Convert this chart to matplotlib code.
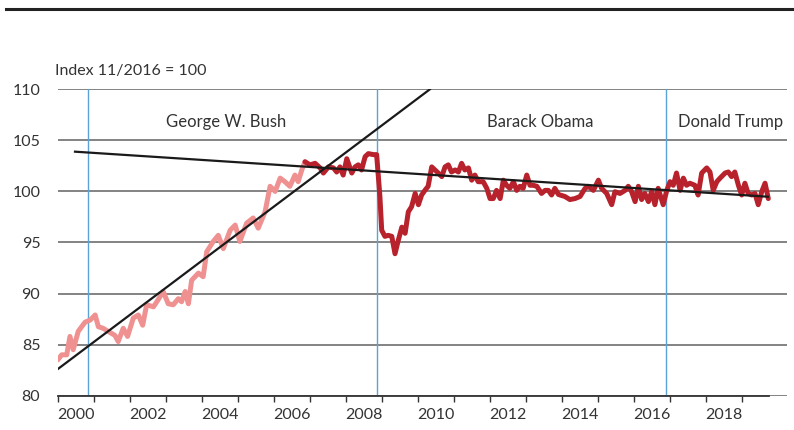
import matplotlib
matplotlib.use('Agg')
import matplotlib.pyplot as plt
from matplotlib.lines import Line2D
import numpy as np

plt.rcParams['font.family'] = ['Lato', 'DejaVu Sans']

# index values (decimal year, index 11/2016 = 100)
years_early = [2000.0, 2000.11, 2000.25, 2000.34, 2000.43, 2000.57, 2000.76, 2000.9,
               2001.04, 2001.13, 2001.26, 2001.4, 2001.59, 2001.68, 2001.82, 2001.94,
               2002.1, 2002.24, 2002.36, 2002.47, 2002.66, 2002.79, 2002.93, 2003.07,
               2003.21, 2003.35, 2003.44, 2003.54, 2003.63, 2003.72, 2003.91, 2004.04,
               2004.14, 2004.32, 2004.46, 2004.6, 2004.79, 2004.93, 2005.06, 2005.25,
               2005.43, 2005.57, 2005.76, 2005.9, 2006.04, 2006.18, 2006.31, 2006.45,
               2006.59, 2006.68, 2006.78, 2006.87]
index_early = [83.5, 84.0, 84.0, 85.8, 84.5, 86.3, 87.2, 87.4,
               87.9, 86.75, 86.6, 86.3, 85.9, 85.3, 86.6, 85.8,
               87.6, 87.9, 86.9, 88.9, 88.7, 89.4, 90.2, 89.0,
               88.9, 89.5, 89.2, 90.2, 89.0, 91.3, 92.0, 91.65,
               94.1, 95.1, 95.7, 94.4, 96.2, 96.7, 95.1, 96.9,
               97.4, 96.4, 98.0, 100.5, 100.0, 101.3, 100.95, 100.5,
               101.6, 100.95, 102.1, 102.9]

years_late = [2006.87, 2007.01, 2007.15, 2007.29, 2007.38, 2007.52, 2007.66, 2007.75,
              2007.84, 2007.93, 2008.03, 2008.17, 2008.26, 2008.35, 2008.44, 2008.54,
              2008.63, 2008.77, 2008.86, 2008.95, 2009.0, 2009.09, 2009.18, 2009.28,
              2009.37, 2009.46, 2009.56, 2009.65, 2009.74, 2009.83, 2009.93, 2010.02,
              2010.11, 2010.2, 2010.29, 2010.39, 2010.48, 2010.57, 2010.67, 2010.76,
              2010.85, 2010.94, 2011.04, 2011.13, 2011.22, 2011.31, 2011.41, 2011.5,
              2011.59, 2011.68, 2011.82, 2011.92, 2012.01, 2012.1, 2012.19, 2012.29,
              2012.38, 2012.47, 2012.56, 2012.66, 2012.75, 2012.84, 2012.93, 2013.03,
              2013.12, 2013.21, 2013.31, 2013.44, 2013.54, 2013.63, 2013.72, 2013.81,
              2013.91, 2014.09, 2014.23, 2014.37, 2014.51, 2014.65, 2014.74, 2014.88,
              2015.02, 2015.11, 2015.25, 2015.39, 2015.48, 2015.62, 2015.76, 2015.85,
              2015.94, 2016.04, 2016.13, 2016.22, 2016.31, 2016.41, 2016.5, 2016.59,
              2016.68, 2016.82, 2016.92, 2017.01, 2017.1, 2017.19, 2017.29, 2017.38,
              2017.47, 2017.56, 2017.7, 2017.79, 2017.89, 2018.03, 2018.12, 2018.21,
              2018.31, 2018.4, 2018.54, 2018.63, 2018.72, 2018.81, 2018.91, 2019.0,
              2019.09, 2019.18, 2019.28, 2019.37, 2019.46, 2019.56, 2019.65, 2019.74]
index_late = [102.9, 102.6, 102.75, 102.3, 101.8, 102.4, 102.3, 101.9,
              102.4, 101.6, 103.2, 101.8, 102.4, 102.6, 102.1, 103.4,
              103.7, 103.6, 103.6, 99.5, 96.2, 95.6, 95.7, 95.6,
              93.9, 95.2, 96.5, 95.9, 98.0, 98.5, 99.8, 98.7,
              99.65, 100.1, 100.5, 102.4, 102.1, 101.8, 101.45, 102.4,
              102.6, 101.9, 102.1, 101.9, 102.75, 102.1, 102.3, 101.1,
              101.6, 100.95, 100.95, 100.3, 99.3, 99.3, 100.1, 99.3,
              101.1, 100.6, 100.3, 100.95, 100.1, 100.5, 100.3, 101.6,
              100.6, 100.6, 100.5, 99.8, 100.1, 100.1, 99.65, 100.3,
              99.7, 99.5, 99.2, 99.3, 99.5, 100.3, 100.5, 100.1,
              101.1, 100.3, 99.8, 98.7, 99.97, 99.8, 100.1, 100.5,
              100.0, 99.0, 100.5, 99.2, 99.8, 99.0, 100.0, 98.7,
              100.3, 98.7, 100.1, 100.95, 100.6, 101.8, 100.1, 101.3,
              100.6, 100.8, 100.6, 99.65, 101.8, 102.3, 101.9, 100.1,
              100.95, 101.3, 101.8, 101.9, 101.45, 101.9, 100.6, 99.65,
              100.8, 99.8, 99.65, 99.8, 98.7, 100.0, 100.8, 99.3]

# trend lines (end points)
trend1_x = [2000.0, 2010.34]
trend1_y = [82.6, 110.0]
trend2_x = [2000.48, 2019.73]
trend2_y = [103.89, 99.48]

elections = [2000.84, 2008.87, 2016.89]
presidents = ['George W. Bush', 'Barack Obama', 'Donald Trump']
label_x = [2004.67, 2013.4, 2018.7]

fig = plt.figure(figsize=(7.94, 4.3), dpi=100)
ax = fig.add_axes([0.0727, 0.0798, 0.9185, 0.7126])

for y in [80, 85, 90, 95, 100, 105, 110]:
    ax.axhline(y, color='#7a7a7a', lw=1.3, zorder=1)

for e in elections:
    ax.axvline(e, color='#5ba3d6', lw=1.0, zorder=2)

ax.plot(years_early, index_early, color='#f09191', lw=3.6, solid_capstyle='round',
        solid_joinstyle='round', zorder=3)
ax.plot(years_late, index_late, color='#b8222c', lw=3.6, solid_capstyle='round',
        solid_joinstyle='round', zorder=3)

ax.plot(trend1_x, trend1_y, color='#1a1a1a', lw=1.6, zorder=4)
ax.plot(trend2_x, trend2_y, color='#1a1a1a', lw=1.6, zorder=4)

for name, x in zip(presidents, label_x):
    ax.text(x, 106.8, name, ha='center', va='center', fontsize=12, color='#333333')

ax.set_xlim(2000, 2020.26)
ax.set_ylim(80, 110)

ax.set_yticks([80, 85, 90, 95, 100, 105, 110])
ax.tick_params(axis='y', length=0, pad=12.5, labelsize=11.5, labelcolor='#333333')

ax.set_xticks(np.arange(2000, 2020, 1))
ax.set_xticklabels([])
ax.set_xticks(np.arange(2000, 2020, 2) + 0.5, minor=True)
ax.set_xticklabels([str(y) for y in range(2000, 2020, 2)], minor=True)
ax.tick_params(axis='x', which='major', length=4, width=1.0, color='#333333', direction='out')
ax.tick_params(axis='x', which='minor', length=0, pad=9, labelsize=11.5, labelcolor='#333333')

for s in ['top', 'right', 'left']:
    ax.spines[s].set_visible(False)
ax.spines['bottom'].set_color('#333333')
ax.spines['bottom'].set_linewidth(1.3)
ax.spines['bottom'].set_bounds(2000, 2019.77)
ax.spines['bottom'].set_zorder(2)

fig.text(55 / 794, 0.835, 'Index 11/2016 = 100', ha='left', va='center', fontsize=11.5, color='#333333')
fig.add_artist(Line2D([6 / 794, 1.0], [0.980, 0.980], color='#222222', lw=2.2))

fig.savefig('out.png', dpi=100)
